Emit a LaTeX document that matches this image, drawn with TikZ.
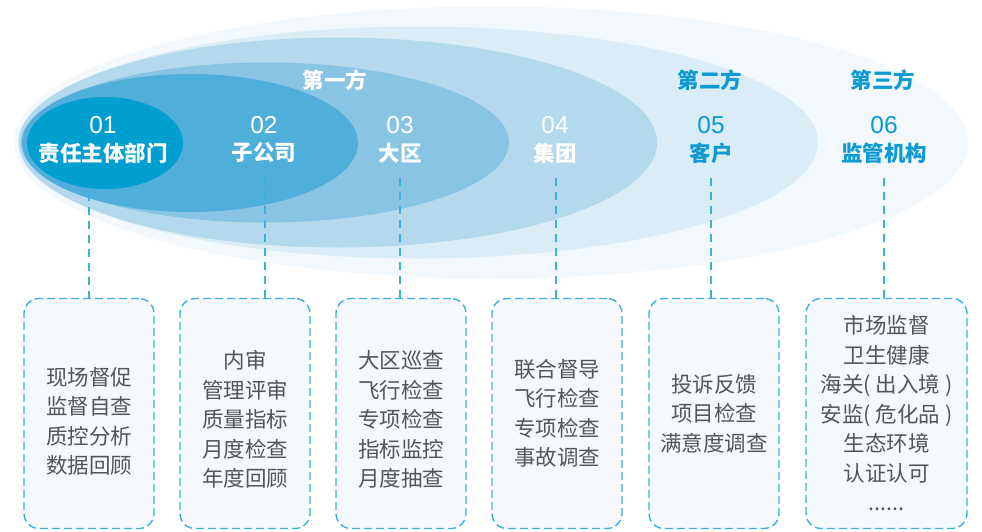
\documentclass[tikz,border=0pt]{standalone}
\usepackage{fontspec}
\setmainfont{Noto Sans CJK SC}
\newfontfamily\digitfont{Liberation Sans}
\usetikzlibrary{positioning}

\definecolor{lay1}{HTML}{009FD0}
\definecolor{lay2}{HTML}{4FAEDA}
\definecolor{lay3}{HTML}{89C4E4}
\definecolor{lay4}{HTML}{B4D9EC}
\definecolor{lay5}{HTML}{DAEDF7}
\definecolor{lay6}{HTML}{F3F8FC}
\definecolor{deepblue}{HTML}{0E9AD2}
\definecolor{linkblue}{HTML}{3AB2DF}
\definecolor{cardfill}{HTML}{F5F9FD}
\definecolor{txtgray}{HTML}{555555}

\begin{document}
\begin{tikzpicture}[x=1pt,y=-1pt,node distance=24.6pt,
   numtxt/.style={text=white,font=\digitfont\fontsize{24.5}{25}\selectfont},
   nametxt/.style={text=white,font=\fontsize{21.5}{22}\selectfont\bfseries},
   card/.style={draw=linkblue,line width=1.4pt,dash pattern=on 8pt off 4pt,
     fill=cardfill,rounded corners=15pt,minimum width=130pt,minimum height=230pt},
   cardtxt/.style={align=center,text=txtgray,font=\fontsize{21.5}{29.5}\selectfont},
   link/.style={draw=linkblue,line width=1.4pt,dash pattern=on 8pt off 6pt}]
   \useasboundingbox (0,0) rectangle (982,531);
   % layers
   \fill[lay6] (491,142.5) ellipse [x radius=477, y radius=136];
   \fill[lay5] (418,142.5) ellipse [x radius=400, y radius=116];
   \fill[lay4] (338,142.5) ellipse [x radius=319, y radius=105];
   \fill[lay3] (265,142.5) ellipse [x radius=244, y radius=80];
   \fill[lay2] (190,143) ellipse [x radius=168, y radius=69];
   \fill[lay1] (105,143) ellipse [x radius=78, y radius=46];
   % labels
   \node[nametxt] (p1) at (335,80) {第一方};
   \node[nametxt,text=deepblue] (p2) at (710,80) {第二方};
   \node[nametxt,text=deepblue] (p3) at (883,80) {第三方};
   \node[numtxt] (n1) at (103,125) {01};
   \node[nametxt] (t1) at (103,153) {责任主体部门};
   \node[numtxt] (n2) at (264,125) {02};
   \node[nametxt] (t2) at (264,153) {子公司};
   \node[numtxt] (n3) at (400,125) {03};
   \node[nametxt] (t3) at (400,153) {大区};
   \node[numtxt] (n4) at (555,125) {04};
   \node[nametxt] (t4) at (555,153) {集团};
   \node[numtxt,text=deepblue] (n5) at (711,125) {05};
   \node[nametxt,text=deepblue] (t5) at (711,153) {客户};
   \node[numtxt,text=deepblue] (n6) at (884,125) {06};
   \node[nametxt,text=deepblue] (t6) at (884,153) {监管机构};
   % cards
   \node[card] (b1) at (89,413.5) {};
   \node[card] (b2) [right=of b1] {};
   \node[card] (b3) [right=of b2] {};
   \node[card] (b4) [right=of b3] {};
   \node[card] (b5) [right=25.6pt of b4] {};
   \node[card,minimum width=161pt] (b6) [right=25.6pt of b5] {};
   \node[cardtxt] (l1) at ([yshift=-8pt]b1.center) {现场督促\\监督自查\\质控分析\\数据回顾};
   \node[cardtxt] (l2) at ([yshift=-6pt]b2.center) {内审\\管理评审\\质量指标\\月度检查\\年度回顾};
   \node[cardtxt] (l3) at ([yshift=-6pt]b3.center) {大区巡查\\飞行检查\\专项检查\\指标监控\\月度抽查};
   \node[cardtxt] (l4) at (b4.center) {联合督导\\飞行检查\\专项检查\\事故调查};
   \node[cardtxt] (l5) at (b5.center) {投诉反馈\\项目检查\\满意度调查};
   \node[cardtxt] (l6) at (b6.center) {市场监督\\卫生健康\\海关( 出入境 )\\安监( 危化品 )\\生态环境\\认证认可\\......};
   % links
   \coordinate (s1) at (89,193);
   \coordinate (s2) at (265,178);
   \coordinate (s3) at (400,178);
   \coordinate (s4) at (556,178);
   \coordinate (s5) at (711,178);
   \coordinate (s6) at (884,178);
   \foreach \i in {1,...,6}
     \draw[link] (s\i) -- (s\i |- b\i.north);
\end{tikzpicture}
\end{document}
